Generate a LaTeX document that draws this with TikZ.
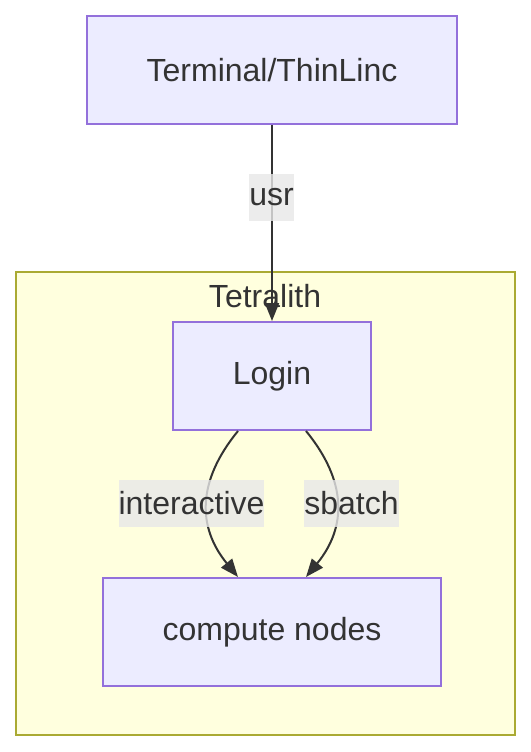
\documentclass[tikz,border=0pt]{standalone}
\usepackage{fontspec}
\setmainfont{Liberation Sans}
\usetikzlibrary{arrows.meta,calc}
\definecolor{nodefill}{HTML}{ECECFF}
\definecolor{nodestroke}{HTML}{9370DB}
\definecolor{clusterfill}{HTML}{FFFFDE}
\definecolor{clusterstroke}{HTML}{AAAA33}
\definecolor{txt}{HTML}{333333}
\definecolor{lblbg}{HTML}{E8E8E8}
\begin{document}
\begin{tikzpicture}[x=0.75pt,y=-0.75pt,
  every node/.style={text=txt,font=\fontsize{24}{28}\selectfont},
  box/.style={draw=nodestroke,fill=nodefill,line width=1.5pt,inner sep=0pt,minimum height=81pt},
  edge/.style={draw=txt,line width=1.5pt,-{Triangle[length=13.5pt,width=10.5pt]}},
  lbl/.style={fill=lblbg,fill opacity=0.8,text opacity=1,inner xsep=0pt,inner ysep=0pt,minimum height=35.25pt}]
\useasboundingbox (0,0) rectangle (531,752);
\fill[white] (0,0) rectangle (531,752);
\draw[draw=clusterstroke,fill=clusterfill,line width=1.5pt] (16,272) rectangle (515,735);
\node (tetra) at (265,296) {Tetralith};
\node[box,minimum width=277.5pt] (term) at (272,70) {Terminal/ThinLinc};
\node[box,minimum width=148.5pt] (login) at (272,376) {Login};
\node[box,minimum width=253.5pt] (comp) at (272,632) {compute nodes};
\draw[edge] (term.south) -- (login.north);
\draw[edge] ($(login.south)+(-34,0)$) .. controls ($(login.south)+(-75,50)$) and ($(comp.north)+(-75,-50)$) .. ($(comp.north)+(-34,0)$);
\draw[edge] ($(login.south)+(34,0)$) .. controls ($(login.south)+(75,50)$) and ($(comp.north)+(75,-50)$) .. ($(comp.north)+(34,0)$);
\node[lbl] (lusr) at (271.5,197.5) {usr};
\node[lbl] (lint) at (191.5,503.5) {interactive};
\node[lbl] (lsb) at (351.5,503.5) {sbatch};
\end{tikzpicture}
\end{document}
